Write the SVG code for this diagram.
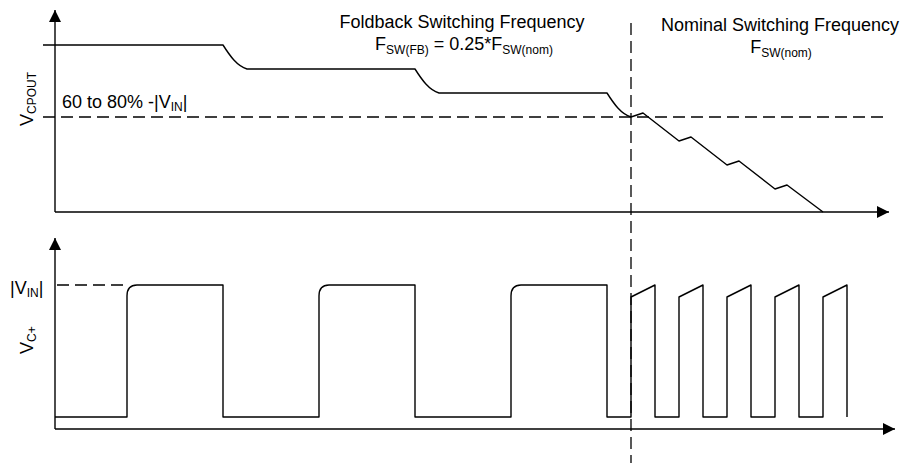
<svg xmlns="http://www.w3.org/2000/svg" width="904" height="463" viewBox="0 0 904 463">
<style>
.ax{stroke:#000;stroke-width:1.4;fill:none}
.w{stroke:#000;stroke-width:1.4;fill:none;stroke-linejoin:round}
.d{stroke:#000;stroke-width:1.3;fill:none;stroke-dasharray:12 6}
.t{font-family:"Liberation Sans",Arial,sans-serif;font-size:18px;fill:#000}
.s{font-size:12px}
</style>
<defs>
<marker id="ah" markerWidth="12" markerHeight="12" refX="12" refY="6" orient="auto" markerUnits="userSpaceOnUse"><path d="M0,0 L12,6 L0,12 Z" fill="#000"/></marker>
</defs>
<rect width="904" height="463" fill="#fff"/>
<g id="connectors">
<line class="ax" x1="55" y1="212" x2="55" y2="10" marker-end="url(#ah)"/>
<line class="ax" x1="55" y1="212" x2="889" y2="212" marker-end="url(#ah)"/>
<line class="ax" x1="55" y1="429" x2="55" y2="238" marker-end="url(#ah)"/>
<line class="ax" x1="55" y1="429" x2="895" y2="429" marker-end="url(#ah)"/>
<line class="d" x1="43" y1="117" x2="883" y2="117"/>
<line class="d" x1="631" y1="23" x2="631" y2="463"/>
<line class="d" x1="57" y1="285" x2="123" y2="285"/>
</g>
<g id="vcpout-wave">
<path class="w" d="M43,45 L223,45 C230,56 237,66 247,69 L415,69 C422,80 429,90 439,93 L607,93 C614,104 621,114 631,117 L643,113 L679,141 L691,137 L727,165 L739,161 L775,189 L787,185 L823,212"/>
</g>
<g id="vc-wave">
<path class="w" d="M55,417 L127,417 L127,296 Q127,285 137,285 L223,285 L223,417 L319,417 L319,296 Q319,285 329,285 L415,285 L415,417 L511,417 L511,296 Q511,285 521,285 L607,285 L607,417 L631,417 L631,297 L655,285 L655,417 L679,417 L679,297 L703,285 L703,417 L727,417 L727,297 L751,285 L751,417 L775,417 L775,297 L799,285 L799,417 L823,417 L823,297 L847,285 L847,417"/>
</g>
<g id="labels">
<text class="t" transform="translate(33,126) rotate(-90)">V<tspan class="s" dy="3">CPOUT</tspan></text>
<text class="t" transform="translate(33,354) rotate(-90)">V<tspan class="s" dy="3">C+</tspan></text>
<text class="t" x="62" y="108">60 to 80% -|V<tspan class="s" dy="3">IN</tspan><tspan dy="-3">|</tspan></text>
<text class="t" x="10" y="294">|V<tspan class="s" dy="3">IN</tspan><tspan dy="-3">|</tspan></text>
<text class="t" x="462" y="28" text-anchor="middle">Foldback Switching Frequency</text>
<text class="t" x="464" y="50" text-anchor="middle">F<tspan class="s" dy="4">SW(FB)</tspan><tspan dy="-4"> = 0.25*F</tspan><tspan class="s" dy="4">SW(nom)</tspan></text>
<text class="t" x="780" y="30.5" text-anchor="middle">Nominal Switching Frequency</text>
<text class="t" x="781" y="53" text-anchor="middle">F<tspan class="s" dy="4">SW(nom)</tspan></text>
</g>
</svg>
